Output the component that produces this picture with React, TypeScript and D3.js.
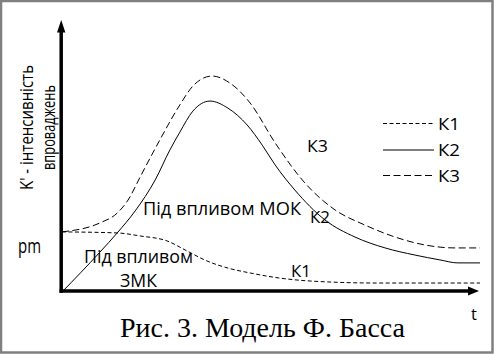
import React from 'react';
import * as d3 from 'd3';

const W = 495;
const H = 354;

const seriesNames = ['К1', 'К2', 'К3'];
const seriesDash = ['4,2.5', null, '7,3.5'];

const k1T = [0, 13.4, 18.7, 25.1, 29.9, 34.7, 39.7, 45.0, 51.7, 63.6, 75.6, 100];
const k1V = [22.1, 21.7, 20.6, 18.8, 15.1, 11.4, 8.8, 7.0, 5.2, 3.7, 3.3, 3.3];

const k2T = [0, 9.1, 13.2, 17.5, 22.3, 25.8, 28.2, 31.3, 35.4, 39.7, 44.3, 47.9, 51.0, 55.7, 62.9, 70.1, 77.3, 84.4, 90.4, 94.7, 100];
const k2V = [0, 14.7, 21.7, 29.8, 41.2, 52.2, 58.8, 66.5, 70.2, 67.6, 61.4, 54.0, 46.7, 37.5, 26.5, 20.2, 16.2, 13.6, 11.8, 10.7, 10.7];

const k3T = [0, 9.1, 13.2, 15.8, 18.7, 23.4, 28.2, 31.3, 35.9, 40.2, 45.0, 51.0, 58.1, 65.3, 72.5, 79.7, 86.8, 94.0, 100];
const k3V = [22.1, 25.4, 29.0, 33.8, 42.3, 55.9, 68.8, 75.7, 79.4, 76.8, 69.5, 54.8, 40.1, 30.2, 24.6, 20.2, 17.3, 16.2, 16.2];

const seriesT = [k1T, k2T, k3T];
const seriesV = [k1V, k2V, k3V];

const yLabel1 = "K' - інтенсивність";
const yLabel2 = 'впроваджень';
const pmLabel = 'pm';
const xLabel = 't';
const caption = 'Рис. 3. Модель Ф. Басса';

const SANS = "'Open Sans', 'Noto Sans', sans-serif";
const SERIF = "'Liberation Serif', 'Times New Roman', serif";

export default function App() {
  const x = d3.scaleLinear().domain([0, 100]).range([62, 480]);
  const y = d3.scaleLinear().domain([0, 100]).range([292, 20]);

  const line = d3
    .line<[number, number]>()
    .x((d) => x(d[0]))
    .y((d) => y(d[1]))
    .curve(d3.curveMonotoneX);

  const x0 = x(0) - 0.8;
  const y0 = y(0) - 1;
  const yTop = y(100);
  const xEnd = x(100) - 1;

  const legendY = [123.5, 150, 175.5];

  return (
    <svg
      width={W}
      height={H}
      style={{ position: 'absolute', left: 0, top: 0, display: 'block', background: '#fff' }}
    >
      <rect x={0} y={0} width={W} height={H} fill="#fff" />
      <rect x={1} y={1} width={491.5} height={351.5} fill="none" stroke="#808080" strokeWidth={2.5} />

      {/* curves */}
      {seriesNames.map((name, i) => {
        const pts = seriesT[i].map((t, j) => [t, seriesV[i][j]] as [number, number]);
        return (
          <path
            key={name}
            d={line(pts) || ''}
            fill="none"
            stroke="#000"
            strokeWidth={1}
            strokeDasharray={seriesDash[i] || undefined}
          />
        );
      })}

      {/* axes */}
      <line x1={x0} y1={y0 + 1.7} x2={x0} y2={yTop + 11} stroke="#000" strokeWidth={3.5} />
      <path d={`M${x0},${yTop} L${x0 - 4.2},${yTop + 12.5} L${x0 + 4.2},${yTop + 12.5} Z`} fill="#000" />
      <line x1={x0 - 1.7} y1={y0} x2={xEnd - 10} y2={y0} stroke="#000" strokeWidth={3.5} />
      <path d={`M${xEnd},${y0} L${xEnd - 11},${y0 - 4.5} L${xEnd - 11},${y0 + 4.5} Z`} fill="#000" />

      {/* axis labels */}
      <text
        transform="translate(33,127.5) rotate(-90)"
        textAnchor="middle"
        fontFamily={SANS}
        fontSize={17.5}
        textLength={125}
        lengthAdjust="spacingAndGlyphs"
      >
        {yLabel1}
      </text>
      <text
        transform="translate(55,127.5) rotate(-90)"
        textAnchor="middle"
        fontFamily={SANS}
        fontSize={17.5}
        textLength={85}
        lengthAdjust="spacingAndGlyphs"
      >
        {yLabel2}
      </text>
      <text x={18} y={253} fontFamily={SANS} fontSize={20} textLength={23} lengthAdjust="spacingAndGlyphs">
        {pmLabel}
      </text>
      <text x={471} y={320} fontFamily={SANS} fontSize={16.5}>
        {xLabel}
      </text>

      {/* annotations */}
      <text x={143} y={214.5} fontFamily={SANS} fontSize={17.5} textLength={158} lengthAdjust="spacingAndGlyphs">
        Під впливом МОК
      </text>
      <text x={84} y={263} fontFamily={SANS} fontSize={17.5} textLength={109} lengthAdjust="spacingAndGlyphs">
        Під впливом
      </text>
      <text x={120} y={287} fontFamily={SANS} fontSize={17.5} textLength={37} lengthAdjust="spacingAndGlyphs">
        ЗМК
      </text>
      <text x={307} y={152} fontFamily={SANS} fontSize={17} textLength={21} lengthAdjust="spacingAndGlyphs">
        {seriesNames[2]}
      </text>
      <text x={310} y={223} fontFamily={SANS} fontSize={17} textLength={20} lengthAdjust="spacingAndGlyphs">
        {seriesNames[1]}
      </text>
      <text x={291} y={277} fontFamily={SANS} fontSize={17} textLength={20} lengthAdjust="spacingAndGlyphs">
        {seriesNames[0]}
      </text>

      {/* legend */}
      {seriesNames.map((name, i) => (
        <g key={'lg' + name}>
          <line
            x1={383}
            x2={434}
            y1={legendY[i]}
            y2={legendY[i]}
            stroke="#000"
            strokeWidth={1}
            strokeDasharray={seriesDash[i] || undefined}
          />
          <text
            x={438}
            y={legendY[i] + 6}
            fontFamily={SANS}
            fontSize={16}
            textLength={22}
            lengthAdjust="spacingAndGlyphs"
          >
            {name}
          </text>
        </g>
      ))}

      {/* caption */}
      <text x={120} y={337} fontFamily={SERIF} fontSize={28} textLength={285} lengthAdjust="spacingAndGlyphs">
        {caption}
      </text>
    </svg>
  );
}
